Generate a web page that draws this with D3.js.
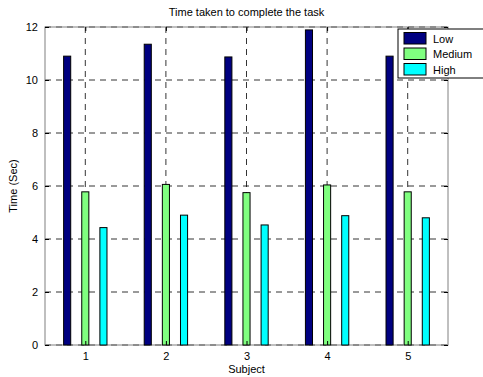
<!DOCTYPE html>
<html>
<head>
<meta charset="utf-8">
<script src="https://d3js.org/d3.v7.min.js"></script>
<style>
  body { margin: 0; background: #fff; }
  text { font-family: "Liberation Sans", Arial, sans-serif; fill: #000; }
</style>
</head>
<body>
<div id="chart"></div>
<script>
var subjects = [1, 2, 3, 4, 5];
var seriesNames = ["Low", "Medium", "High"];
var seriesColors = ["#000080", "#80ff80", "#00ffff"];
var lowValues = [10.9, 11.35, 10.87, 11.89, 10.9];
var mediumValues = [5.78, 6.06, 5.75, 6.04, 5.78];
var highValues = [4.43, 4.9, 4.53, 4.88, 4.8];
var yTicks = [0, 2, 4, 6, 8, 10, 12];

var series = [lowValues, mediumValues, highValues];

var W = 483, H = 377;
var margin = {top: 27, right: 35, bottom: 32, left: 45};
var width = W - margin.left - margin.right,
    height = H - margin.top - margin.bottom;

var svg = d3.select("#chart").append("svg")
    .attr("width", W).attr("height", H);
var g = svg.append("g")
    .attr("transform", "translate(" + margin.left + "," + margin.top + ")");

var x = d3.scaleLinear().domain([0.5, 5.5]).range([0, width]);
var y = d3.scaleLinear().domain([0, 12]).range([height, 0]);

// grid (behind the bars)
g.append("g")
    .selectAll("line").data(yTicks).enter().append("line")
    .attr("x1", 0).attr("x2", width)
    .attr("y1", function (d) { return y(d); })
    .attr("y2", function (d) { return y(d); })
    .attr("stroke", "#000").attr("stroke-width", 0.8)
    .attr("stroke-dasharray", "6,5");
g.append("g")
    .selectAll("line").data(subjects).enter().append("line")
    .attr("x1", function (d) { return x(d); })
    .attr("x2", function (d) { return x(d); })
    .attr("y1", 0).attr("y2", height)
    .attr("stroke", "#000").attr("stroke-width", 0.8)
    .attr("stroke-dasharray", "6,5");

// axis box
g.append("rect")
    .attr("x", 0).attr("y", 0).attr("width", width).attr("height", height)
    .attr("fill", "none").attr("stroke", "#808080").attr("stroke-width", 1);

// bars
var offsets = [-0.225, 0, 0.225];
var barW = 0.088;
series.forEach(function (vals, si) {
    g.selectAll(".bar" + si)
        .data(vals)
        .enter().append("rect")
        .attr("x", function (d, i) { return x(subjects[i] + offsets[si] - barW / 2); })
        .attr("y", function (d) { return y(d); })
        .attr("width", x(barW) - x(0))
        .attr("height", function (d) { return y(0) - y(d); })
        .attr("fill", seriesColors[si])
        .attr("stroke", "#000")
        .attr("stroke-width", 1);
});

// axes
var yAxis = g.append("g")
    .call(d3.axisLeft(y).tickValues(yTicks).tickSizeInner(-4).tickSizeOuter(0).tickPadding(7));
yAxis.select(".domain").remove();
yAxis.selectAll("line").attr("stroke", "#000");
yAxis.selectAll("text").style("font-size", "11px").style("font-family", "Liberation Sans, Arial, sans-serif");

var yAxisR = g.append("g").attr("transform", "translate(" + width + ",0)")
    .call(d3.axisRight(y).tickValues(yTicks).tickSizeInner(-4).tickSizeOuter(0).tickFormat(""));
yAxisR.select(".domain").remove();
yAxisR.selectAll("line").attr("stroke", "#000");

var xAxis = g.append("g").attr("transform", "translate(0," + height + ")")
    .call(d3.axisBottom(x).tickValues(subjects).tickFormat(d3.format("d"))
        .tickSizeInner(-4).tickSizeOuter(0).tickPadding(7));
xAxis.select(".domain").remove();
xAxis.selectAll("line").attr("stroke", "#000");
xAxis.selectAll("text").style("font-size", "11px").style("font-family", "Liberation Sans, Arial, sans-serif");

var xAxisT = g.append("g")
    .call(d3.axisTop(x).tickValues(subjects).tickSizeInner(-4).tickSizeOuter(0).tickFormat(""));
xAxisT.select(".domain").remove();
xAxisT.selectAll("line").attr("stroke", "#000");

// labels
svg.append("text").attr("x", margin.left + width / 2).attr("y", 16)
    .attr("text-anchor", "middle").style("font-size", "11px")
    .text("Time taken to complete the task");
svg.append("text").attr("x", margin.left + width / 2).attr("y", 373)
    .attr("text-anchor", "middle").style("font-size", "11px")
    .text("Subject");
svg.append("text")
    .attr("transform", "translate(17," + (margin.top + height / 2) + ") rotate(-90)")
    .attr("text-anchor", "middle").style("font-size", "11px")
    .text("Time (Sec)");

// legend
var legend = svg.append("g").attr("transform", "translate(398,29)");
legend.append("rect").attr("x", 0).attr("y", 0).attr("width", 90).attr("height", 49)
    .attr("fill", "#fff").attr("stroke", "#000").attr("stroke-width", 1);
seriesNames.forEach(function (name, i) {
    legend.append("rect")
        .attr("x", 6).attr("y", 3.5 + i * 15.5)
        .attr("width", 22).attr("height", 11.5)
        .attr("fill", seriesColors[i]).attr("stroke", "#000").attr("stroke-width", 1);
    legend.append("text")
        .attr("x", 35).attr("y", 13.5 + i * 15.5)
        .style("font-size", "11px")
        .text(name);
});
</script>
</body>
</html>
